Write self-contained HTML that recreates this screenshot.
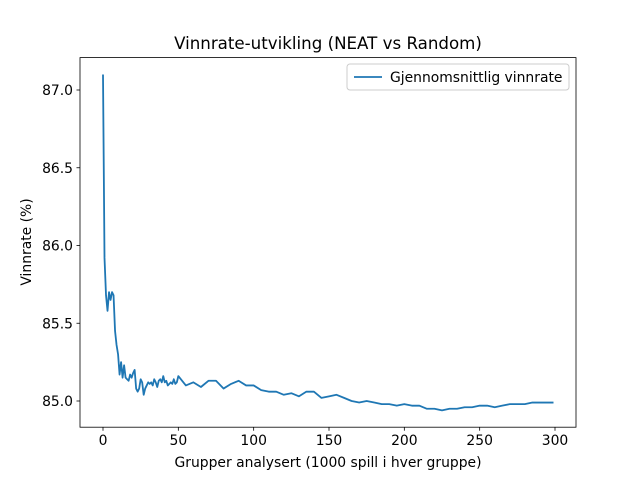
<!DOCTYPE html>
<html><head><meta charset="utf-8"><style>
body{margin:0;background:#fff;}
svg text{font-family:"DejaVu Sans","Liberation Sans",sans-serif;}
</style></head><body>
<svg id="chart" width="640" height="480" xmlns="http://www.w3.org/2000/svg">
<rect width="640" height="480" fill="#fff"/>
<text x="328" y="49" font-size="16.67" text-anchor="middle">Vinnrate-utvikling (NEAT vs Random)</text>
<g id="plot"></g>
<rect x="80" y="57.6" width="496" height="369.6" fill="none" stroke="#000" stroke-width="0.8"/>
<text x="328" y="467" font-size="13.9" text-anchor="middle">Grupper analysert (1000 spill i hver gruppe)</text>
<text transform="translate(31,242) rotate(-90)" font-size="13.9" text-anchor="middle">Vinnrate (%)</text>
<g>
<rect x="347" y="64" width="222" height="26" fill="#fff" stroke="#ccc" rx="3"/>
<line x1="354" y1="77" x2="382" y2="77" stroke="#1f77b4" stroke-width="1.8"/>
<text x="390" y="82" font-size="13.9">Gjennomsnittlig vinnrate</text>
</g>
</svg>
<script>
const xs=[0,1,2,3,4,5,6,7,8,9,10,11,12,13,14,15,16,17,18,19,20,21,22,23,24,25,26,27,28,29,30,31,32,33,34,35,36,37,38,39,40,41,42,43,44,45,46,47,48,49,50,55,60,65,70,75,80,85,90,95,100,105,110,115,120,125,130,135,140,145,150,155,160,165,170,175,180,185,190,195,200,205,210,215,220,225,230,235,240,245,250,255,260,265,270,275,280,285,290,295,299];
const ys=[87.10,85.92,85.68,85.58,85.70,85.65,85.70,85.68,85.45,85.36,85.30,85.17,85.25,85.15,85.23,85.15,85.14,85.13,85.17,85.15,85.18,85.20,85.08,85.06,85.08,85.14,85.12,85.04,85.08,85.10,85.12,85.11,85.12,85.10,85.14,85.12,85.09,85.13,85.14,85.12,85.16,85.12,85.13,85.10,85.11,85.12,85.11,85.14,85.11,85.12,85.16,85.10,85.12,85.09,85.13,85.13,85.08,85.11,85.13,85.10,85.10,85.07,85.06,85.06,85.04,85.05,85.03,85.06,85.06,85.02,85.03,85.04,85.02,85.00,84.99,85.00,84.99,84.98,84.98,84.97,84.98,84.97,84.97,84.95,84.95,84.94,84.95,84.95,84.96,84.96,84.97,84.97,84.96,84.97,84.98,84.98,84.98,84.99,84.99,84.99,84.99];
const xTicks=[0,50,100,150,200,250,300];
const yTicks=[85.0,85.5,86.0,86.5,87.0];
const NS='http://www.w3.org/2000/svg';
const sx=v=>103+v*(452/300);
const sy=v=>401-(v-85)*155.5;
const g=document.getElementById('plot');
function mk(t,a){const e=document.createElementNS(NS,t);for(const k in a)e.setAttribute(k,a[k]);g.appendChild(e);return e;}
xTicks.forEach(t=>{
 const l=mk('line',{x1:sx(t),x2:sx(t),y1:427.2,y2:430.7,stroke:'#000','stroke-width':0.8});
 
 
 const tx=mk('text',{x:sx(t),y:445,'font-size':13.9,'text-anchor':'middle'});tx.textContent=t;
 
 
});
yTicks.forEach(t=>{
 const l=mk('line',{x1:76.5,x2:80,y1:sy(t),y2:sy(t),stroke:'#000','stroke-width':0.8});
 
 
 const tx=mk('text',{x:73,y:sy(t)+5,'font-size':13.9,'text-anchor':'end'});tx.textContent=t.toFixed(1);
 
 
});
const p=mk('polyline',{points:xs.map((x,i)=>sx(x)+','+sy(ys[i])).join(' '),fill:'none',stroke:'#1f77b4','stroke-width':1.8,'stroke-linejoin':'round'});


</script>
</body></html>
